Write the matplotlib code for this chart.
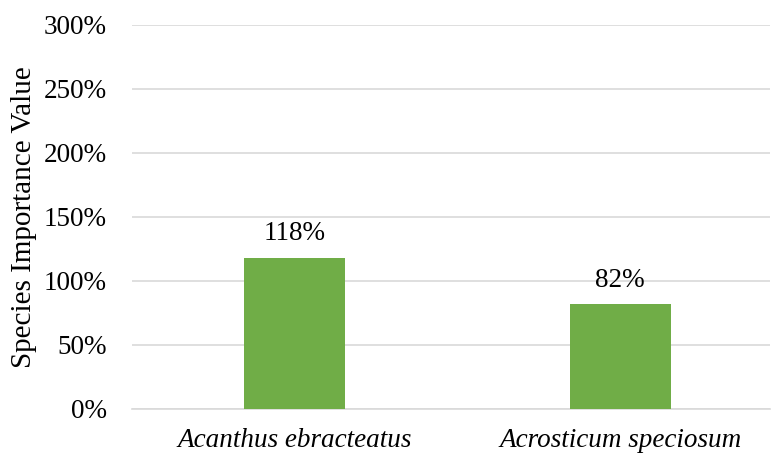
import matplotlib.pyplot as plt
from matplotlib.ticker import FuncFormatter

species = ['Acanthus ebracteatus', 'Acrosticum speciosum']
importance = [118, 82]
y_ticks = [0, 50, 100, 150, 200, 250, 300]

plt.rcParams['font.family'] = ['Liberation Serif', 'DejaVu Serif']

fig = plt.figure(figsize=(7.71, 4.63), dpi=100)
ax = fig.add_axes([132 / 771, 54 / 463, 638 / 771, 384 / 463])

x = range(len(species))
bars = ax.bar(x, importance, width=0.31, color='#70AD47', zorder=3)
for b, v in zip(bars, importance):
    ax.text(b.get_x() + b.get_width() / 2, v + 9, f'{v}%',
            ha='center', va='bottom', fontsize=19.5)

ax.set_xlim(-0.5, 1.46)
ax.set_ylim(0, 300)
ax.set_yticks(y_ticks)
ax.yaxis.set_major_formatter(FuncFormatter(lambda v, p: f'{v:.0f}%'))
ax.set_xticks(list(x))
ax.set_xticklabels(species, fontstyle='italic', fontsize=19.5)
ax.tick_params(axis='y', labelsize=19.5, length=0, pad=18)
ax.tick_params(axis='x', length=0, pad=14)
ax.grid(axis='y', color='#d9d9d9', linewidth=1.2, zorder=0)
for s in ['top', 'right', 'left']:
    ax.spines[s].set_visible(False)
ax.spines['bottom'].set_color('#d9d9d9')
ax.spines['bottom'].set_linewidth(1.2)
ax.set_ylabel('Species Importance Value', fontsize=21, labelpad=5)

fig.savefig('out.png', dpi=100)
